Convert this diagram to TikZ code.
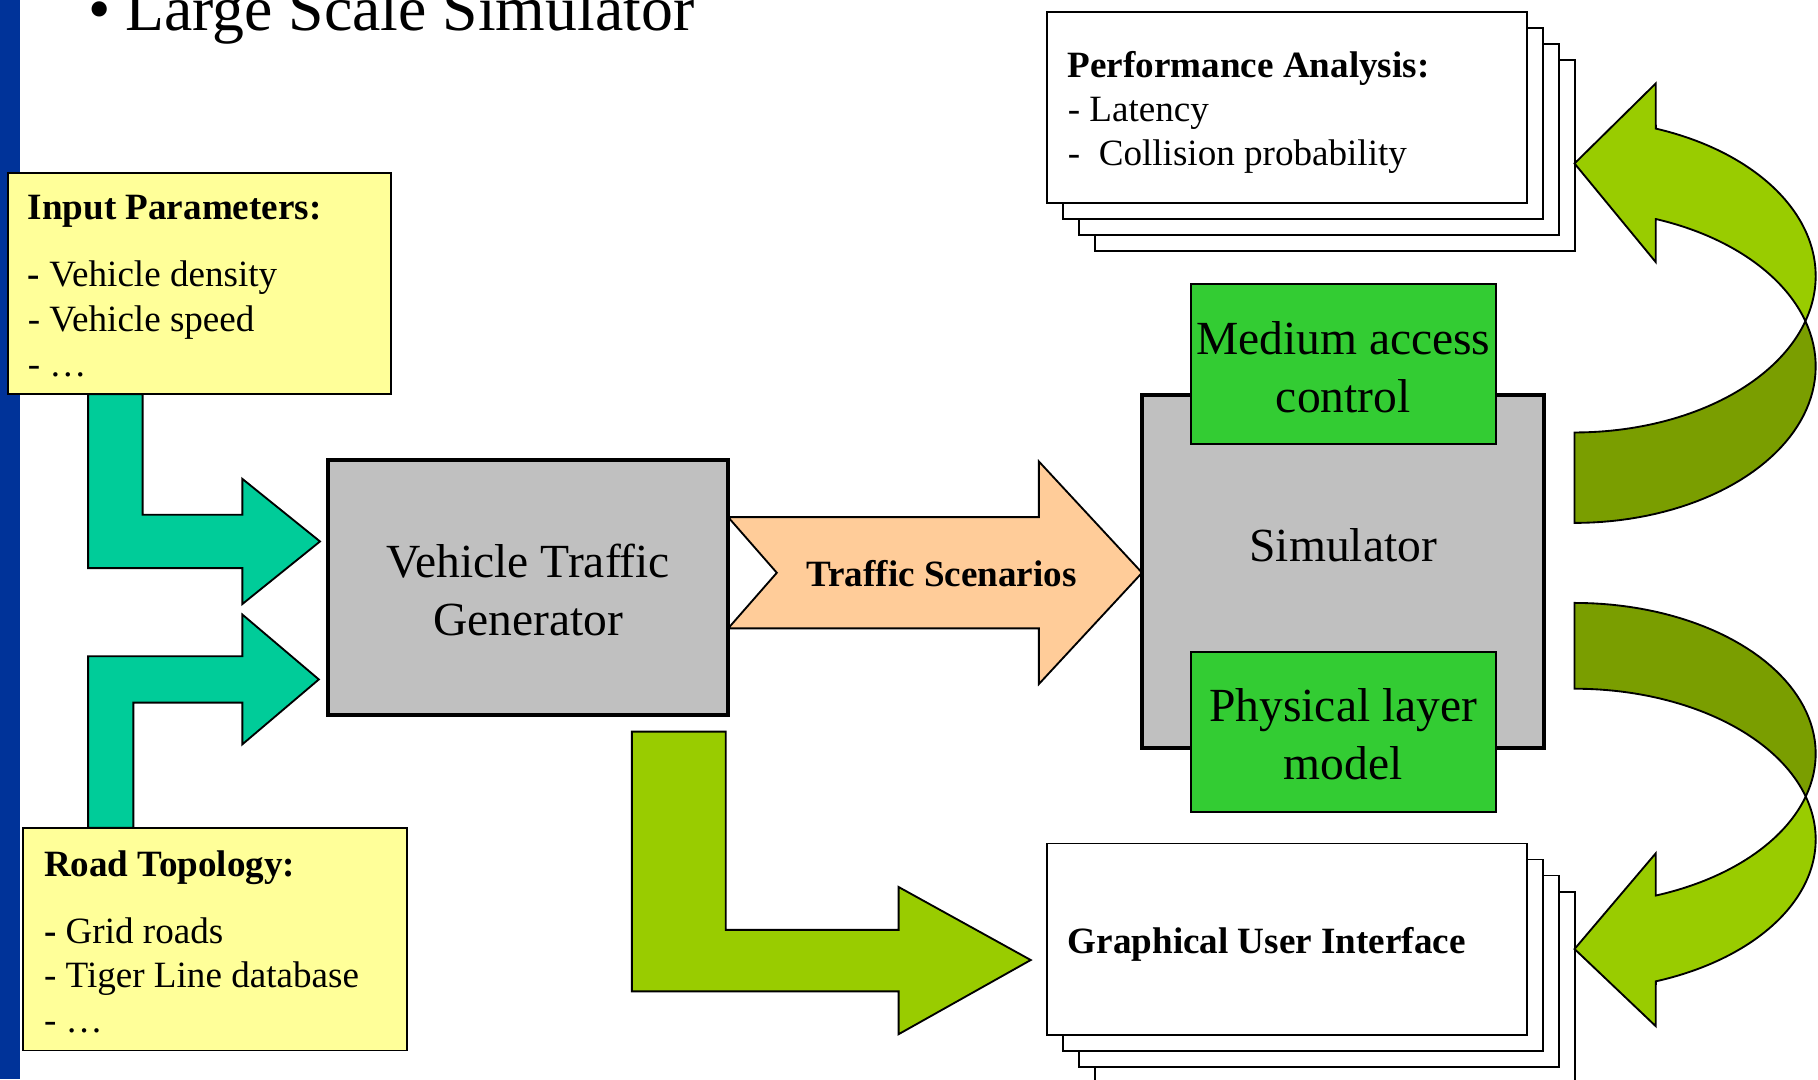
\documentclass[tikz,border=0pt]{standalone}
\usepackage{fontspec}
\setmainfont{Liberation Serif}
\usetikzlibrary{calc}

\definecolor{barblue}{HTML}{003399}
\definecolor{notepad}{HTML}{FFFF99}
\definecolor{inteal}{HTML}{00CC99}
\definecolor{boxgray}{HTML}{C0C0C0}
\definecolor{modgreen}{HTML}{33CC33}
\definecolor{peach}{HTML}{FFCC99}
\definecolor{leaf}{HTML}{99CC00}
\definecolor{leafdark}{HTML}{7A9E00}

% taller first line, so two-line labels sit a little lower in their boxes
\newcommand{\firstline}{\rule{0pt}{16.7pt}}

\tikzset{
  boxn/.style={rectangle, inner sep=0pt, outer sep=0pt, draw=black, line width=0.8pt},
  heavy/.style={boxn, line width=1.8pt, fill=boxgray},
  note/.style={boxn, fill=notepad},
  module/.style={boxn, fill=modgreen, minimum width=131.5pt, minimum height=69pt,
    font=\fontsize{20.5}{25}\selectfont, align=center},
  sheet/.style={boxn, fill=white, minimum width=207pt, minimum height=82.5pt},
  blockarrow/.style={draw=black, line width=0.8pt, line join=miter},
  textline/.style={anchor=base west, inner sep=0pt, outer sep=0pt},
  bigtext/.style={font=\fontsize{20.5}{25}\selectfont, align=center},
}

\begin{document}
\begin{tikzpicture}[x=0.5pt, y=-0.5pt]
\useasboundingbox (0,0) rectangle (1568,931);
\clip (0,0) rectangle (1568,931);

% left margin band
\fill[barblue] (0,0) rectangle (17,931);

% heading
\node[textline, font=\fontsize{27.5}{33}\selectfont] (bullet) at (76,26) {•};
\node[textline, font=\fontsize{27.5}{33}\selectfont] (title) at (108,26) {Large Scale Simulator};

% inputs feeding the traffic generator
\filldraw[blockarrow, fill=inteal]
  (76,340) -- (123,340) -- (123,444) -- (209,444) -- (209,413) -- (276,467)
  -- (209,521) -- (209,490) -- (76,490) -- cycle;
\filldraw[blockarrow, fill=inteal]
  (76,714) -- (76,566) -- (209,566) -- (209,530) -- (275,586)
  -- (209,642) -- (209,606) -- (115,606) -- (115,714) -- cycle;

% traffic scenarios arrow
\filldraw[blockarrow, fill=peach]
  (628,446) -- (896,446) -- (896,398) -- (985,494) -- (896,590)
  -- (896,542) -- (628,542) -- (670,494) -- cycle;

% generator output to the GUI
\filldraw[blockarrow, fill=leaf]
  (545,631) -- (626,631) -- (626,802) -- (775,802) -- (775,765) -- (889,828)
  -- (775,892) -- (775,855) -- (545,855) -- cycle;

% boxes
\node[note, minimum width=165pt, minimum height=95.5pt] (inp) at (172,244.5) {};
\node[note, minimum width=165.5pt, minimum height=96pt] (road) at (185.5,810) {};
\node[heavy, minimum width=172.5pt, minimum height=110pt, bigtext] (vtg) at (455.5,507)
  {\firstline Vehicle Traffic\\Generator};
\node[heavy, minimum width=173.5pt, minimum height=152pt] (sim) at (1158.5,493) {};
\node[module] (mac) at (1158.5,314) {\firstline Medium access\\control};
\node[module] (phy) at (1158.5,631) {\firstline Physical layer\\model};

% stacked result sheets
\foreach \k in {3,2,1} {
  \node[sheet] (pa\k) at ({1110+13.83*\k},{92.5+13.83*\k}) {};
}
\node[sheet] (pa) at (1110,92.5) {};
\foreach \k in {3,2,1} {
  \node[sheet] (gui\k) at ({1110+13.83*\k},{810+13.83*\k}) {};
}
\node[sheet] (gui) at (1110,810) {};

% curved arrow: simulator to performance analysis (back side, then front side)
\filldraw[blockarrow, fill=leafdark]
  plot[domain=90:-16.79, samples=50, variable=\t] ({1358+208*cos(\t)},{316+135*sin(\t)})
  -- plot[domain=16.79:90, samples=50, variable=\t] ({1358+208*cos(\t)},{238+135*sin(\t)})
  -- cycle;
\filldraw[blockarrow, fill=leaf]
  plot[domain=16.79:-70.3, samples=60, variable=\t] ({1358+208*cos(\t)},{238+135*sin(\t)})
  -- (1428,72) -- (1358,141) -- (1428,226) -- (1428,188.9)
  -- plot[domain=-70.3:-16.79, samples=50, variable=\t] ({1358+208*cos(\t)},{316+135*sin(\t)})
  -- cycle;

% curved arrow: simulator to graphical user interface
\filldraw[blockarrow, fill=leafdark]
  plot[domain=-90:16.54, samples=50, variable=\t] ({1358+208*cos(\t)},{650+130*sin(\t)})
  -- plot[domain=-16.54:-90, samples=50, variable=\t] ({1358+208*cos(\t)},{724+130*sin(\t)})
  -- cycle;
\filldraw[blockarrow, fill=leaf]
  plot[domain=-16.54:70.3, samples=60, variable=\t] ({1358+208*cos(\t)},{724+130*sin(\t)})
  -- (1428,885) -- (1358,818.5) -- (1428,736) -- (1428,772.4)
  -- plot[domain=70.3:16.54, samples=50, variable=\t] ({1358+208*cos(\t)},{650+130*sin(\t)})
  -- cycle;

% labels
\node[anchor=base, inner sep=0pt, font=\fontsize{20.5}{25}\selectfont] (simlabel) at (1158.5,484.5) {Simulator};
\node[anchor=base, inner sep=0pt, font=\fontsize{16}{19}\selectfont\bfseries] (tslabel) at (812,506) {Traffic Scenarios};

\node[textline] (inptext) at (24,189.5) {\parbox[t]{150pt}{\fontsize{16}{19.3}\selectfont
  \textbf{Input Parameters:}\\[9.6pt]
  \textbf{-} Vehicle density\\
  - Vehicle speed\\
  - …}};
\node[textline] (roadtext) at (38,756) {\parbox[t]{155pt}{\fontsize{16}{19.3}\selectfont
  \textbf{Road Topology:}\\[9.4pt]
  \textbf{-} Grid roads\\
  - Tiger Line database\\
  - …}};
\node[textline] (patext) at (921,66.5) {\parbox[t]{200pt}{\fontsize{16}{19}\selectfont
  \textbf{Performance Analysis:}\\
  - Latency\\
  -\ \ Collision probability}};
\node[textline, font=\fontsize{16}{19}\selectfont\bfseries] (guitext) at (921,822) {Graphical User Interface};

\end{tikzpicture}
\end{document}
